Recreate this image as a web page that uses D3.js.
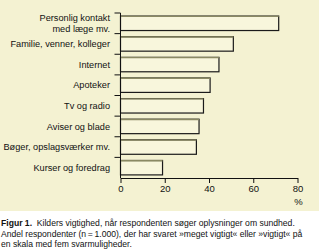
<!DOCTYPE html>
<html>
<head>
<meta charset="utf-8">
<script src="https://d3js.org/d3.v7.min.js"></script>
<style>
body { margin: 0; background: #fff; }
svg { display: block; font-family: 'Liberation Sans', Arial, sans-serif; }
</style>
</head>
<body>
<div id="chart"></div>
<script>
var categories = ['Personlig kontakt\nmed læge mv.', 'Familie, venner, kolleger', 'Internet', 'Apoteker',
    'Tv og radio', 'Aviser og blade', 'Bøger, opslagsværker mv.', 'Kurser og foredrag'];
var values = [71.5, 51, 44.5, 40.5, 37.5, 35.5, 34.3, 19];
var ticks = [0, 20, 40, 60, 80];

var width = 319, height = 251;
var margin = { top: 13, left: 120.5, right: 21.5, bottom: 73 };

var svg = d3.select('#chart')
    .append('svg')
    .attr('width', width)
    .attr('height', height);

// pale yellow panel behind the chart
svg.append('rect')
    .attr('x', 0).attr('y', 0)
    .attr('width', width).attr('height', 211)
    .attr('fill', '#f4f2d2');

var x = d3.scaleLinear()
    .domain([0, 80])
    .range([margin.left, width - margin.right]);

var y = d3.scaleBand()
    .domain(categories)
    .range([margin.top, height - margin.bottom])
    .paddingInner(0.3)
    .paddingOuter(0.15);

var step = y.step();

// bars
var bars = svg.selectAll('g.bar')
    .data(categories)
    .enter()
    .append('g')
    .attr('class', 'bar');

bars.append('rect')
    .attr('x', x(0))
    .attr('y', function(d) { return y(d); })
    .attr('width', function(d, i) { return x(values[i]) - x(0); })
    .attr('height', y.bandwidth())
    .attr('fill', '#f8f6dc')
    .attr('stroke', '#1a1a1a')
    .attr('stroke-width', 1.2);

bars.append('line')
    .attr('x1', x(0))
    .attr('x2', function(d, i) { return x(values[i]); })
    .attr('y1', function(d) { return y(d) + 0.3; })
    .attr('y2', function(d) { return y(d) + 0.3; })
    .attr('stroke', '#8a8963')
    .attr('stroke-width', 1.4);

// category labels
var labels = svg.selectAll('text.cat')
    .data(categories)
    .enter()
    .append('text')
    .attr('class', 'cat')
    .attr('text-anchor', 'end')
    .attr('font-size', '9.2px')
    .attr('fill', '#111')
    .attr('x', 110)
    .attr('y', function(d) { return y(d) + y.bandwidth() / 2; });

labels.each(function(d) {
    var lines = d.split('\n');
    var t = d3.select(this);
    lines.forEach(function(l, j) {
        t.append('tspan')
            .attr('x', 110)
            .attr('dy', j === 0 ? (lines.length > 1 ? '-0.25em' : '0.35em') : '1.2em')
            .text(l);
    });
});

// y axis: vertical line with ticks at band boundaries
svg.append('line')
    .attr('x1', x(0)).attr('x2', x(0))
    .attr('y1', margin.top).attr('y2', height - margin.bottom)
    .attr('stroke', '#111').attr('stroke-width', 1);

svg.selectAll('line.ytick')
    .data(d3.range(categories.length))
    .enter()
    .append('line')
    .attr('class', 'ytick')
    .attr('x1', x(0) - 6).attr('x2', x(0))
    .attr('y1', function(i) { return margin.top + i * step; })
    .attr('y2', function(i) { return margin.top + i * step; })
    .attr('stroke', '#111');

// x axis
var xAxis = svg.append('g')
    .attr('transform', 'translate(0,' + (height - margin.bottom) + ')')
    .call(d3.axisBottom(x).tickValues(ticks).tickSize(5).tickSizeOuter(0));

xAxis.select('.domain').attr('stroke', '#111');
xAxis.selectAll('.tick line').attr('stroke', '#111');
xAxis.selectAll('.tick text')
    .attr('font-size', '9.5px')
    .attr('font-family', "'Liberation Sans', Arial, sans-serif")
    .attr('fill', '#111')
    .attr('dy', '0.6em');

svg.append('text')
    .attr('x', x(80) + 1)
    .attr('y', 205)
    .attr('text-anchor', 'middle')
    .attr('font-size', '9.5px')
    .attr('fill', '#111')
    .text('%');

// caption
var caption = svg.append('text')
    .attr('font-size', '8.6px')
    .attr('fill', '#111');

var capLines = [
    ['Figur 1.', '  Kilders vigtighed, når respondenten søger oplysninger om sundhed.'],
    ['', 'Andel respondenter (n\u2009=\u20091.000), der har svaret »meget vigtigt« eller »vigtigt« på'],
    ['', 'en skala med fem svarmuligheder.']
];

capLines.forEach(function(l, i) {
    var t = caption.append('tspan')
        .attr('x', 1)
        .attr('y', 226 + i * 10.5);
    if (l[0]) {
        t.attr('font-weight', 'bold').text(l[0]);
        caption.append('tspan').attr('xml:space', 'preserve').text(l[1]);
    } else {
        t.text(l[1]);
    }
});
</script>
</body>
</html>
